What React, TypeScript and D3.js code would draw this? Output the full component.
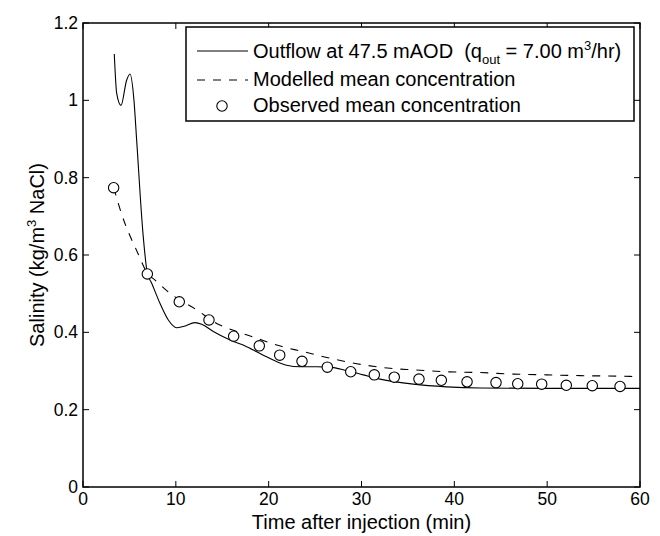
import React from "react";
import * as d3 from "d3";

const outflowT = [3.37, 3.63, 4.09, 4.7, 5.06, 5.49, 5.78, 6.46, 6.93, 7.4, 8.29, 9.19, 10.09, 10.8, 12.07, 12.79, 14.04, 15.84, 17.63, 19.42, 20.87, 21.94, 23.38, 25.18, 26.61, 28.41, 30.19, 32, 35.58, 39.18, 42.77, 50, 60];
const outflowS = [1.12, 1.018, 0.987, 1.052, 1.068, 1.0, 0.897, 0.656, 0.553, 0.527, 0.475, 0.432, 0.412, 0.415, 0.425, 0.421, 0.402, 0.38, 0.363, 0.341, 0.324, 0.315, 0.311, 0.311, 0.31, 0.301, 0.29, 0.279, 0.266, 0.259, 0.256, 0.255, 0.255];

const modelT = [3.31, 4.13, 5.92, 6.93, 7.76, 9.37, 12.25, 14.4, 16.56, 18.71, 20.87, 23.73, 26.61, 30.19, 33.07, 35.58, 39.18, 42.77, 46.35, 49.95, 53.54, 58.92, 60];
const modelS = [0.774, 0.708, 0.604, 0.553, 0.535, 0.501, 0.458, 0.423, 0.402, 0.385, 0.367, 0.35, 0.333, 0.316, 0.307, 0.303, 0.298, 0.296, 0.292, 0.29, 0.288, 0.286, 0.285];

const obsT = [3.3, 6.93, 10.37, 13.57, 16.23, 18.99, 21.19, 23.59, 26.32, 28.84, 31.38, 33.53, 36.19, 38.6, 41.37, 44.49, 46.83, 49.41, 52.06, 54.86, 57.85];
const obsS = [0.774, 0.551, 0.479, 0.432, 0.39, 0.365, 0.341, 0.325, 0.31, 0.298, 0.29, 0.284, 0.279, 0.276, 0.272, 0.27, 0.267, 0.266, 0.263, 0.262, 0.26];

const xTicks = [0, 10, 20, 30, 40, 50, 60];
const yTicks = [0, 0.2, 0.4, 0.6, 0.8, 1, 1.2];

export default function App() {
  const W = 660, H = 536;
  const L = 83, R = 640, T = 23, B = 487;
  const x = d3.scaleLinear().domain([0, 60]).range([L, R]);
  const y = d3.scaleLinear().domain([0, 1.2]).range([B, T]);
  const line = d3.line<[number, number]>().x(d => x(d[0])).y(d => y(d[1])).curve(d3.curveMonotoneX);
  const outflow = outflowT.map((t, i) => [t, outflowS[i]] as [number, number]);
  const model = modelT.map((t, i) => [t, modelS[i]] as [number, number]);
  const font = "Liberation Sans, Arial, Helvetica, sans-serif";
  const tl = 6;
  const dash = "8,8";
  return (
    <svg width={W} height={H} style={{ position: "absolute", left: 0, top: 0, background: "#fff" }} fontFamily={font}>
      <rect x={0} y={0} width={W} height={H} fill="#fff" />
      {xTicks.map(t => (
        <g key={"x" + t}>
          <line x1={x(t)} x2={x(t)} y1={B} y2={B - tl} stroke="#000" strokeWidth={1} />
          <line x1={x(t)} x2={x(t)} y1={T} y2={T + tl} stroke="#000" strokeWidth={1} />
          <text x={x(t)} y={505} fontSize={17.5} textAnchor="middle">{t}</text>
        </g>
      ))}
      {yTicks.map(t => (
        <g key={"y" + t}>
          <line x1={L} x2={L + tl} y1={y(t)} y2={y(t)} stroke="#000" strokeWidth={1} />
          <line x1={R} x2={R - tl} y1={y(t)} y2={y(t)} stroke="#000" strokeWidth={1} />
          <text x={78} y={y(t) + 6} fontSize={17.5} textAnchor="end">{String(t)}</text>
        </g>
      ))}
      <rect x={L} y={T} width={R - L} height={B - T} fill="none" stroke="#000" strokeWidth={1.5} />
      <path d={line(outflow) || ""} fill="none" stroke="#000" strokeWidth={1.1} />
      <path d={line(model) || ""} fill="none" stroke="#000" strokeWidth={1.1} strokeDasharray={dash} />
      {obsT.map((t, i) => (
        <circle key={"o" + i} cx={x(t)} cy={y(obsS[i])} r={5.2} fill="#fff" stroke="#000" strokeWidth={1.1} />
      ))}
      <text x={(L + R) / 2} y={529} fontSize={20} textAnchor="middle">Time after injection (min)</text>
      <text transform={`translate(44,${(T + B) / 2}) rotate(-90)`} fontSize={20} textAnchor="middle">
        Salinity (kg/m<tspan dy={-8} fontSize={13}>3</tspan><tspan dy={8}> NaCl)</tspan>
      </text>
      <rect x={186} y={27} width={448} height={94} fill="#fff" stroke="#000" strokeWidth={1.5} />
      <line x1={197} x2={248} y1={51} y2={51} stroke="#000" strokeWidth={1.1} />
      <text x={253} y={58} fontSize={20} style={{ whiteSpace: "pre" }}>
        {"Outflow at 47.5 mAOD  (q"}<tspan dy={6} fontSize={13}>out</tspan><tspan dy={-6}>{" = 7.00 m"}</tspan><tspan dy={-8} fontSize={13}>3</tspan><tspan dy={8}>/hr)</tspan>
      </text>
      <line x1={197} x2={248} y1={80} y2={80} stroke="#000" strokeWidth={1.1} strokeDasharray={dash} />
      <text x={253} y={86} fontSize={20}>Modelled mean concentration</text>
      <circle cx={222} cy={106} r={5.2} fill="#fff" stroke="#000" strokeWidth={1.1} />
      <text x={253} y={112} fontSize={20}>Observed mean concentration</text>
    </svg>
  );
}
